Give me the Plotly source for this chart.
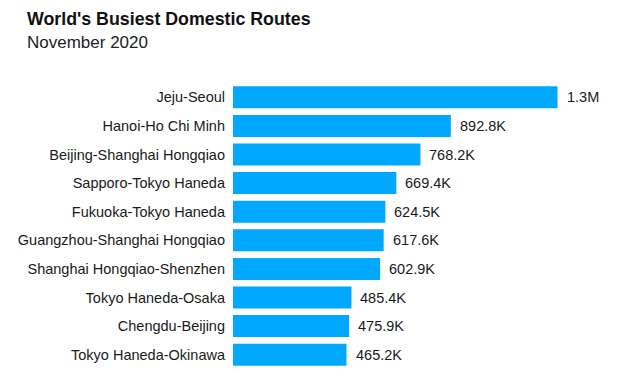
import plotly.graph_objects as go

routes = ["Jeju-Seoul", "Hanoi-Ho Chi Minh", "Beijing-Shanghai Hongqiao",
          "Sapporo-Tokyo Haneda", "Fukuoka-Tokyo Haneda",
          "Guangzhou-Shanghai Hongqiao", "Shanghai Hongqiao-Shenzhen",
          "Tokyo Haneda-Osaka", "Chengdu-Beijing", "Tokyo Haneda-Okinawa"]
passengers = [1330000, 892800, 768200, 669400, 624500,
              617600, 602900, 485400, 475900, 465200]
value_labels = ["1.3M", "892.8K", "768.2K", "669.4K", "624.5K",
                "617.6K", "602.9K", "485.4K", "475.9K", "465.2K"]

W, H = 626, 377
ml, mr, mt, mb = 233, 15, 83, 8
pw = W - ml - mr
ph = H - mt - mb
FONT = "Liberation Sans, Arial, sans-serif"

fig = go.Figure(go.Bar(
    x=passengers, y=routes, orientation="h",
    marker=dict(color="#00A9FF", line=dict(width=0)),
    hoverinfo="skip",
))

annotations = [
    dict(x=v, y=r, text=t, xref="x", yref="y", xanchor="left", yanchor="middle",
         xshift=7, showarrow=False, font=dict(size=14.5, color="#1a1a1a"))
    for v, r, t in zip(passengers, routes, value_labels)
]
annotations += [
    dict(text="<b>World's Busiest Domestic Routes</b>", xref="paper", yref="paper",
         x=(27 - ml) / pw, y=((H - mb) - 31) / ph, xanchor="left", yanchor="bottom",
         xshift=-2, showarrow=False, font=dict(size=17.8, color="#111111")),
    dict(text="November 2020", xref="paper", yref="paper",
         x=(27 - ml) / pw, y=((H - mb) - 54) / ph, xanchor="left", yanchor="bottom",
         xshift=-2, showarrow=False, font=dict(size=17, color="#222222")),
]

fig.update_layout(
    width=W, height=H,
    margin=dict(l=ml, r=mr, t=mt, b=mb, autoexpand=False),
    paper_bgcolor="white", plot_bgcolor="white",
    bargap=0.23, showlegend=False,
    font=dict(family=FONT, color="#1a1a1a"),
    xaxis=dict(range=[0, pw / 244.0 * 1e6], visible=False, fixedrange=True),
    yaxis=dict(categoryorder="array", categoryarray=routes, autorange="reversed",
               showgrid=False, showline=False, zeroline=False, ticks="",
               ticklabelstandoff=7, automargin=False, fixedrange=True,
               tickfont=dict(size=14.5, color="#1a1a1a")),
    annotations=annotations,
)

fig.write_html("out.html", config={"displayModeBar": False},
               post_script="document.body.style.margin='0';document.body.style.overflow='hidden';")
